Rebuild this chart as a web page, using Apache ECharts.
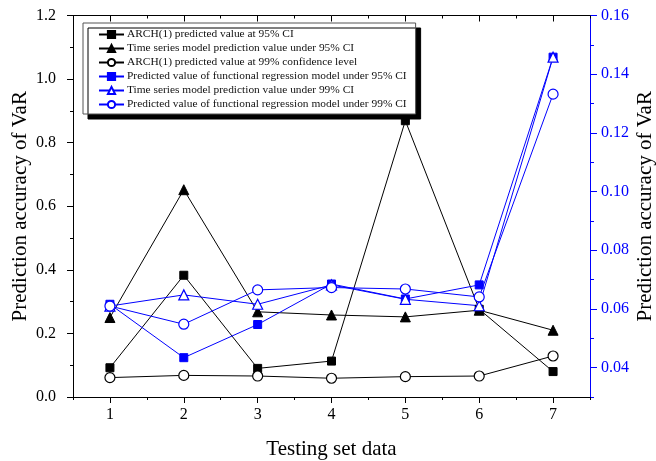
<!DOCTYPE html>
<html><head><meta charset="utf-8">
<script src="https://cdn.jsdelivr.net/npm/echarts@6/dist/echarts.min.js"></script>
<style>html,body{margin:0;padding:0;background:#fff}#c{width:656px;height:461px}</style>
</head><body><div id="c"></div>
<script>
const categories = [1, 2, 3, 4, 5, 6, 7];
const arch95 = [0.092, 0.383, 0.090, 0.113, 0.869, 0.276, 0.080];
const ts95   = [0.250, 0.652, 0.268, 0.258, 0.252, 0.273, 0.210];
const arch99 = [0.061, 0.068, 0.066, 0.059, 0.064, 0.066, 0.129];
const fr95   = [0.0616, 0.0434, 0.0547, 0.0685, 0.0634, 0.0682, 0.1458];
const ts99   = [0.0610, 0.0648, 0.0616, 0.0682, 0.0633, 0.0611, 0.1458];
const fr99   = [0.0610, 0.0548, 0.0665, 0.0673, 0.0668, 0.0641, 0.1332];
const xMinorTicks = [0.5, 1.5, 2.5, 3.5, 4.5, 5.5, 6.5, 7.5];
const rightTicks = [0.04, 0.06, 0.08, 0.10, 0.12, 0.14, 0.16];
const rightMinorTicks = [0.03, 0.05, 0.07, 0.09, 0.11, 0.13, 0.15];
const names = [
  'ARCH(1) predicted value at 95% CI',
  'Time series model prediction value under 95% CI',
  'ARCH(1) predicted value at 99% confidence level',
  'Predicted value of functional regression model under 95% CI',
  'Time series model prediction value under 99% CI',
  'Predicted value of functional regression model under 99% CI'
];
const FONT = '"Liberation Serif", "Times New Roman", serif';
const BLUE = '#0000ff';
function pts(arr){ return categories.map((c,i)=>[c, arr[i]]); }
function mk(name, data, yIdx, color, symbol, size, filled){
  return {
    name, type:'line', data: pts(data), xAxisIndex:0, yAxisIndex:yIdx,
    symbol, symbolSize:size, showSymbol:true,
    lineStyle:{color, width:1},
    itemStyle: filled ? {color, borderColor:color, borderWidth:1} : {color:'#fff', borderColor:color, borderWidth:1.2},
    emphasis:{disabled:true}, animation:false
  };
}
function xAx(pos, ticks, len, inside, line){
  return {type:'value', min:0.5, max:7.5, position:pos,
    axisLine:{show:line, lineStyle:{color:'#000', width:1}},
    axisTick:{show:true, inside, length:len, customValues:ticks, lineStyle:{color:'#000'}},
    axisLabel:{show:false}, splitLine:{show:false}};
}
const chart = echarts.init(document.getElementById('c'), null, {renderer:'canvas'});
chart.setOption({
  animation:false,
  textStyle:{fontFamily:FONT},
  grid:{left:73, right:66, top:15.5, bottom:64, containLabel:false, outerBoundsMode:'none'},
  legend:{
    orient:'vertical', left:83, top:23,
    data:names,
    itemWidth:25, itemHeight:9, itemGap:3,
    padding:[6,9,4,15],
    backgroundColor:'#fff', borderColor:'#555', borderWidth:1,
    shadowColor:'#000', shadowOffsetX:5, shadowOffsetY:5, shadowBlur:0,
    textStyle:{fontFamily:FONT, fontSize:11.4, color:'#111', padding:[0,0,0,-2]},
    selectedMode:false
  },
  xAxis:[
    {type:'value', min:0.5, max:7.5, position:'bottom',
     name:'Testing set data', nameLocation:'middle', nameGap:42, nameMoveOverlap:false,
     nameTextStyle:{fontFamily:FONT, fontSize:21, color:'#000'},
     axisLine:{show:true, lineStyle:{color:'#000', width:1}},
     axisTick:{show:true, inside:false, length:6, customValues:categories, lineStyle:{color:'#000'}},
     axisLabel:{show:true, customValues:categories, margin:10, fontFamily:FONT, fontSize:16, color:'#000'},
     splitLine:{show:false}},
    xAx('bottom', xMinorTicks, 3, false, false),
    xAx('top', categories, 6, true, true),
    xAx('top', xMinorTicks, 3, true, false)
  ],
  yAxis:[
    {type:'value', min:0, max:1.2, interval:0.2, position:'left',
     name:'Prediction accuracy of VaR', nameLocation:'middle', nameGap:42, nameRotate:90, nameMoveOverlap:false,
     nameTextStyle:{fontFamily:FONT, fontSize:21, color:'#000'},
     axisLine:{show:true, lineStyle:{color:'#000', width:1}},
     axisTick:{show:true, inside:false, length:6, lineStyle:{color:'#000'}},
     minorTick:{show:true, splitNumber:2, length:3, lineStyle:{color:'#000'}},
     axisLabel:{margin:17, fontFamily:FONT, fontSize:16, color:'#000', formatter:v=>v.toFixed(1)},
     splitLine:{show:false}, minorSplitLine:{show:false}},
    {type:'value', min:0.03, max:0.16, position:'right',
     name:'Prediction accuracy of VaR', nameLocation:'middle', nameGap:45, nameRotate:90, nameMoveOverlap:false,
     nameTextStyle:{fontFamily:FONT, fontSize:21, color:'#000'},
     axisLine:{show:true, lineStyle:{color:BLUE, width:1}},
     axisTick:{show:true, inside:false, length:7, customValues:rightTicks, lineStyle:{color:BLUE}},
     axisLabel:{margin:11, customValues:rightTicks, fontFamily:FONT, fontSize:16, color:BLUE, formatter:v=>v.toFixed(2)},
     splitLine:{show:false}},
    {type:'value', min:0.03, max:0.16, position:'right',
     axisLine:{show:false},
     axisTick:{show:true, inside:false, length:4, customValues:rightMinorTicks, lineStyle:{color:BLUE}},
     axisLabel:{show:false}, splitLine:{show:false}}
  ],
  series:[
    mk(names[0], arch95, 0, '#000', 'rect', 8, true),
    mk(names[1], ts95, 0, '#000', 'triangle', 10, true),
    mk(names[2], arch99, 0, '#000', 'circle', 10, false),
    mk(names[3], fr95, 1, BLUE, 'rect', 8, true),
    mk(names[4], ts99, 1, BLUE, 'triangle', 10, false),
    mk(names[5], fr99, 1, BLUE, 'circle', 10, false)
  ]
});
</script></body></html>
